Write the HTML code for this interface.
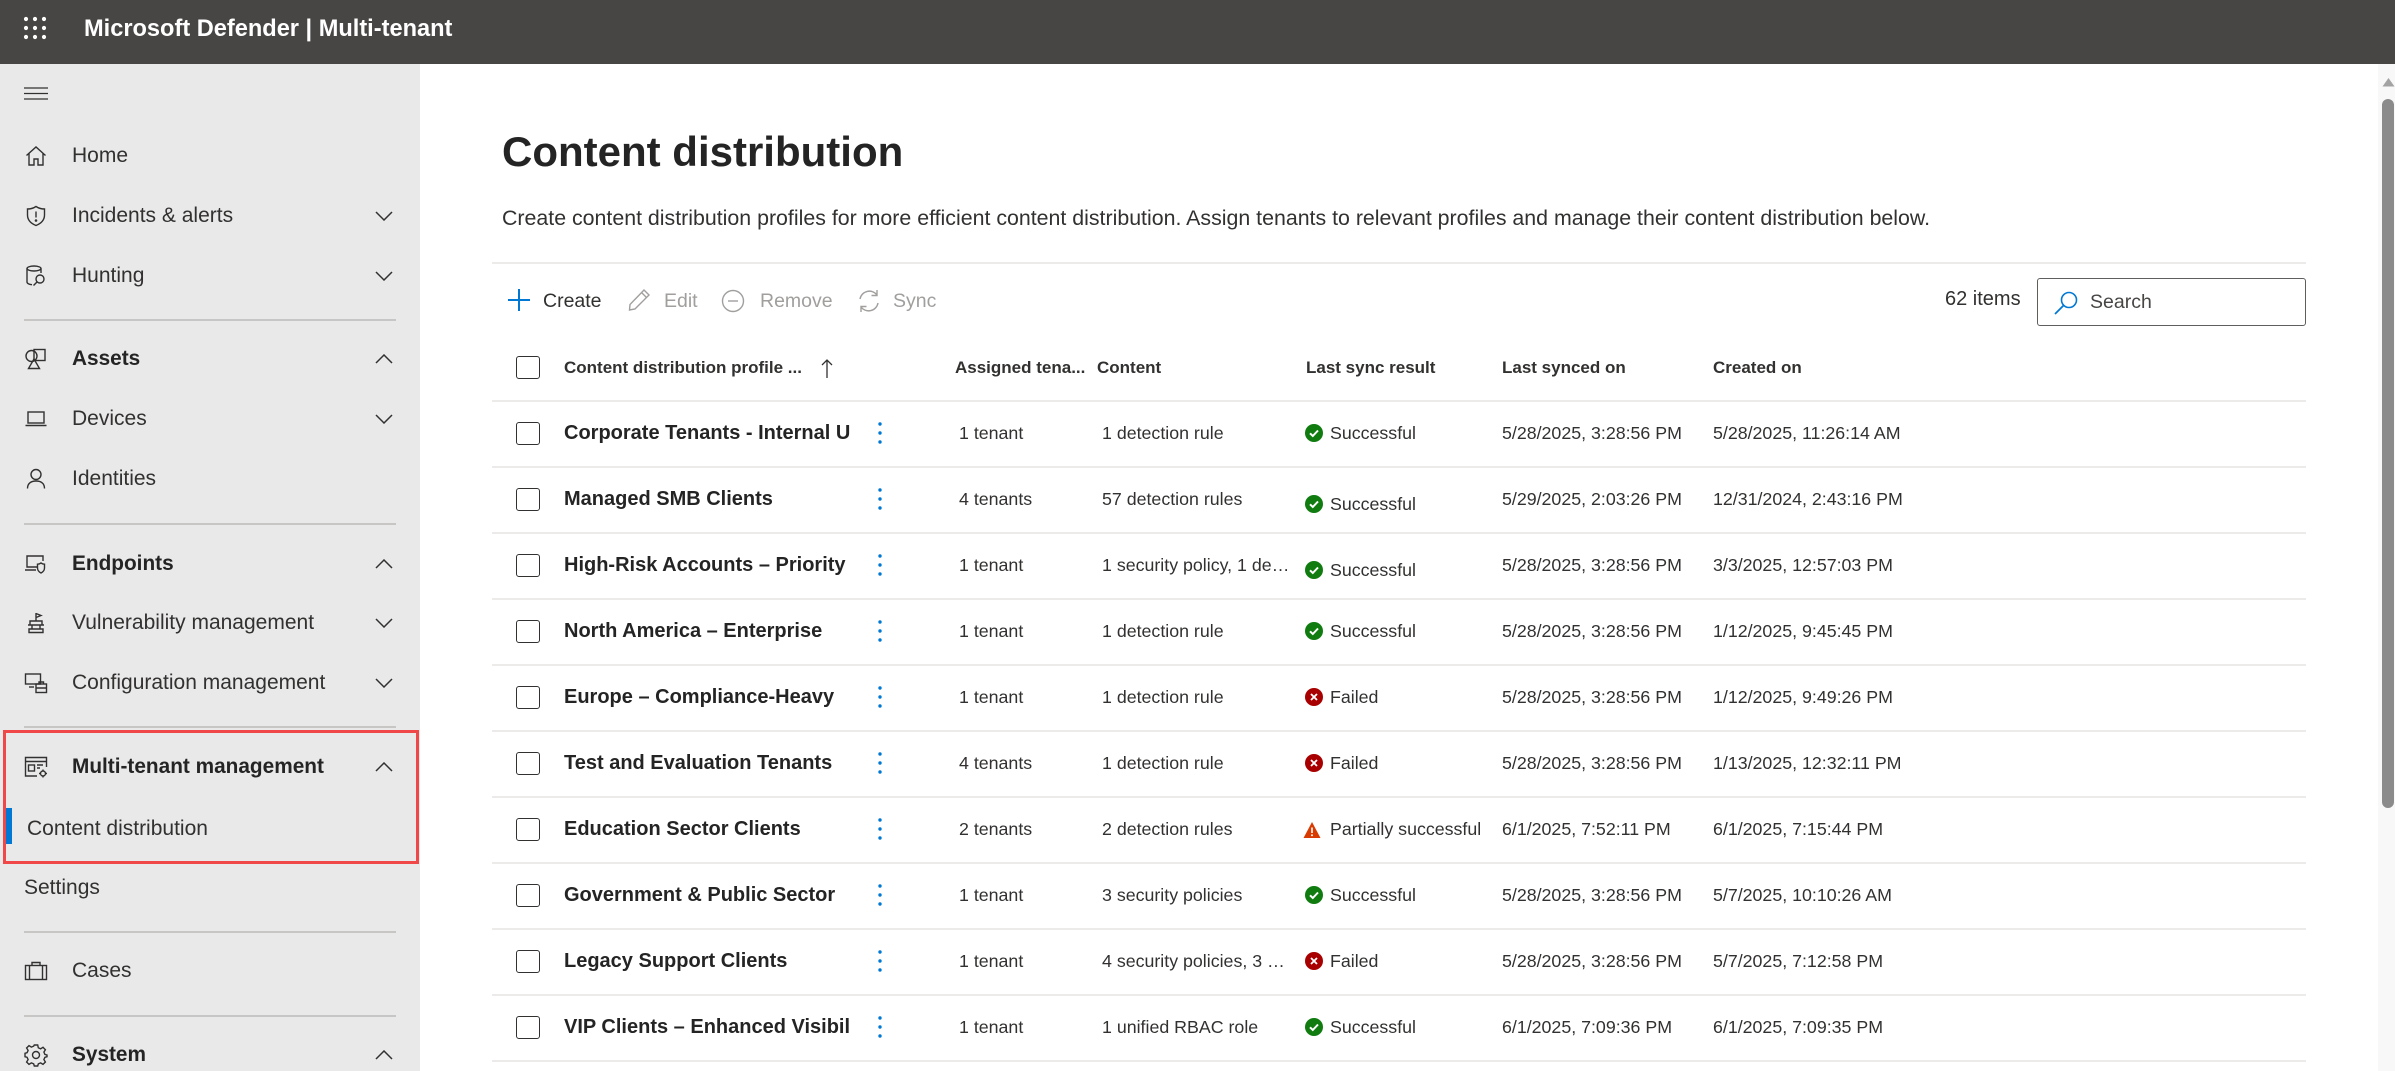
<!DOCTYPE html>
<html><head><meta charset="utf-8">
<style>
*{margin:0;padding:0;box-sizing:border-box}
html,body{width:2395px;height:1071px;overflow:hidden;background:#fff;font-family:"Liberation Sans",Arial,sans-serif;color:#323130}
.a{position:absolute;white-space:nowrap}
.t{height:30px;line-height:30px}
#top{position:absolute;left:0;top:0;width:2395px;height:64px;background:#484644}
#side{position:absolute;left:0;top:64px;width:420px;height:1007px;background:#e9e9e9}
.si{font-size:21px;color:#323130;left:72px}
.sb{font-size:20.8px;font-weight:bold;color:#242424;left:72px}
.dv{position:absolute;left:24px;width:372px;height:2px;background:#c8c6c4}
.ic{position:absolute;left:24px;width:24px;height:24px}
.ic *{stroke:#323130;stroke-width:1.4;fill:none}
.ch{position:absolute;left:375px;width:18px;height:10px}
.ch polyline{stroke:#323130;stroke-width:1.5;fill:none}
.hl{position:absolute;left:492px;width:1814px;height:2px;background:#edebe9}
.cb{position:absolute;left:516px;width:24px;height:23px;border:1.5px solid #323130;border-radius:3px;background:#fff}
.nm{left:564px;width:286px;overflow:hidden;font-size:20px;font-weight:bold;color:#242424}
.dt{position:absolute;left:876px;width:8px;height:22px}
.c{font-size:17.8px;color:#323130}
.as{left:959px}
.co{left:1102px;width:190px;overflow:hidden;text-overflow:ellipsis}
.st{left:1330px}
.ls{left:1502px}
.cr{left:1713px}
.si2{position:absolute;left:1305px;width:18px;height:18px}
.th{font-size:17px;font-weight:bold;color:#323130}
.tb{font-size:19.5px}
.dis{color:#a19f9d}
</style></head>
<body>
<div id="top"></div>
<svg class="a" style="left:23px;top:16px" width="26" height="26" viewBox="0 0 26 26">
<g fill="#fff"><circle cx="3" cy="3" r="2.1"/><circle cx="12" cy="3" r="2.1"/><circle cx="21" cy="3" r="2.1"/><circle cx="3" cy="12" r="2.1"/><circle cx="12" cy="12" r="2.1"/><circle cx="21" cy="12" r="2.1"/><circle cx="3" cy="21" r="2.1"/><circle cx="12" cy="21" r="2.1"/><circle cx="21" cy="21" r="2.1"/></g></svg>
<div class="a t" style="left:84px;top:14px;font-size:23.6px;font-weight:bold;color:#fff">Microsoft Defender | Multi-tenant</div>

<div id="side"></div>
<!-- hamburger -->
<svg class="a" style="left:24px;top:87px" width="24" height="13"><g stroke="#323130" stroke-width="1.3"><line x1="0" y1="1" x2="24" y2="1"/><line x1="0" y1="6.5" x2="24" y2="6.5"/><line x1="0" y1="12" x2="24" y2="12"/></g></svg>

<!-- Home -->
<svg class="ic" style="top:144px" viewBox="0 0 24 24"><path d="M2.5 11.5 L12 3 L21.5 11.5 M5 9.5 V21 H10 V15 H14 V21 H19 V9.5"/></svg>
<div class="a t si" style="top:141px">Home</div>
<!-- Incidents -->
<svg class="ic" style="top:204px" viewBox="0 0 24 24"><path d="M12 2.5 C9 4.5 6.5 5 3.5 5 V11 C3.5 16 7 19.5 12 21.5 C17 19.5 20.5 16 20.5 11 V5 C17.5 5 15 4.5 12 2.5Z M12 7.5 V13.5"/><circle cx="12" cy="16.5" r="0.6"/></svg>
<div class="a t si" style="top:201px">Incidents &amp; alerts</div>
<svg class="ch" style="top:211px"><polyline points="1,1 9,9 17,1"/></svg>
<!-- Hunting -->
<svg class="ic" style="top:264px" viewBox="0 0 24 24"><ellipse cx="10" cy="4.5" rx="7" ry="2.5"/><path d="M3 4.5 V18 C3 19.5 5.5 20.5 8 20.7 M17 4.5 V9"/><circle cx="16" cy="15" r="4"/><path d="M13 18 L9.5 21.5"/></svg>
<div class="a t si" style="top:261px">Hunting</div>
<svg class="ch" style="top:271px"><polyline points="1,1 9,9 17,1"/></svg>
<div class="dv" style="top:319px"></div>
<!-- Assets -->
<svg class="ic" style="top:347px" viewBox="0 0 24 24"><circle cx="7.5" cy="9" r="5.5"/><rect x="10" y="2.5" width="11" height="11"/><path d="M10 12 L4.5 21.5 H15.5 Z"/></svg>
<div class="a t sb" style="top:344px">Assets</div>
<svg class="ch" style="top:354px"><polyline points="1,9 9,1 17,9"/></svg>
<!-- Devices -->
<svg class="ic" style="top:407px" viewBox="0 0 24 24"><rect x="4" y="5" width="16" height="11"/><path d="M1.5 18.5 H22.5"/></svg>
<div class="a t si" style="top:404px">Devices</div>
<svg class="ch" style="top:414px"><polyline points="1,1 9,9 17,1"/></svg>
<!-- Identities -->
<svg class="ic" style="top:467px" viewBox="0 0 24 24"><circle cx="12" cy="7.5" r="5"/><path d="M3.5 21.5 C3.5 16 7.5 14 12 14 C16.5 14 20.5 16 20.5 21.5"/></svg>
<div class="a t si" style="top:464px">Identities</div>
<div class="dv" style="top:523px"></div>
<!-- Endpoints -->
<svg class="ic" style="top:552px" viewBox="0 0 24 24"><path d="M13 15 H3 V4 H19 V9 M1 18 H12"/><path d="M17 11 C15.5 12 14.5 12.2 13.5 12.2 V16 C13.5 18.5 15 20 17 21 C19 20 20.5 18.5 20.5 16 V12.2 C19.5 12.2 18.5 12 17 11Z"/></svg>
<div class="a t sb" style="top:549px">Endpoints</div>
<svg class="ch" style="top:559px"><polyline points="1,9 9,1 17,9"/></svg>
<!-- Vulnerability -->
<svg class="ic" style="top:611px" viewBox="0 0 24 24"><path d="M12 2 V10 M12 2.5 L17 4.5 L12 6.5 M6 10 H18 V14 H6 Z M4 14 H20 M8 14 V18 H16 V14 M5 18 H19 V21.5 H5 Z"/></svg>
<div class="a t si" style="top:608px">Vulnerability management</div>
<svg class="ch" style="top:618px"><polyline points="1,1 9,9 17,1"/></svg>
<!-- Configuration -->
<svg class="ic" style="top:671px" viewBox="0 0 24 24"><rect x="1.5" y="3" width="15" height="10"/><path d="M5 16 H10"/><rect x="12" y="13" width="10.5" height="8.5"/><path d="M12 17 H22.5 M15 13 V11 H19.5 V13"/></svg>
<div class="a t si" style="top:668px">Configuration management</div>
<svg class="ch" style="top:678px"><polyline points="1,1 9,9 17,1"/></svg>
<div class="dv" style="top:726px"></div>

<!-- red box -->
<div class="a" style="left:3px;top:730px;width:416px;height:134px;border:3px solid #f04848"></div>
<!-- Multi-tenant -->
<svg class="ic" style="top:755px" viewBox="0 0 24 24"><path d="M13 21 H1.5 V2.5 H22.5 V12 M1.5 6.5 H22.5"/><rect x="4.5" y="10" width="6" height="6"/><path d="M13 10 H19 M13 13 H16"/><circle cx="19" cy="18.5" r="2.5"/><path d="M19 14.5 V15.5 M19 21.5 V22.5 M15 18.5 H16 M22 18.5 H23"/></svg>
<div class="a t sb" style="top:752px">Multi-tenant management</div>
<svg class="ch" style="top:762px"><polyline points="1,9 9,1 17,9"/></svg>
<div class="a" style="left:6px;top:808px;width:6px;height:36px;background:#0078d4"></div>
<div class="a t" style="left:27px;top:814px;font-size:21px;color:#323130">Content distribution</div>
<div class="a t" style="left:24px;top:873px;font-size:21px;color:#323130">Settings</div>
<div class="dv" style="top:931px"></div>
<!-- Cases -->
<svg class="ic" style="top:959px" viewBox="0 0 24 24"><rect x="1.5" y="6.5" width="21" height="14"/><path d="M8 6.5 V3.5 H16 V6.5 M5.5 6.5 V20.5 M18.5 6.5 V20.5"/></svg>
<div class="a t si" style="top:956px">Cases</div>
<div class="dv" style="top:1015px"></div>
<!-- System -->
<svg class="ic" style="top:1043px" viewBox="0 0 24 24"><circle cx="12" cy="12" r="3.5"/><path d="M10.3 2 H13.7 L14.3 4.8 L16.6 5.8 L19 4.3 L21.4 6.7 L19.9 9.1 L20.9 11.4 L23 12 V13.7 L20.9 14.3 L19.9 16.6 L21.4 19 L19 21.4 L16.6 19.9 L14.3 20.9 L13.7 23 H10.3 L9.7 20.9 L7.4 19.9 L5 21.4 L2.6 19 L4.1 16.6 L3.1 14.3 L1 13.7 V10.3 L3.1 9.7 L4.1 7.4 L2.6 5 L5 2.6 L7.4 4.1 L9.7 3.1 Z"/></svg>
<div class="a t sb" style="top:1040px">System</div>
<svg class="ch" style="top:1050px"><polyline points="1,9 9,1 17,9"/></svg>

<!-- main -->
<div class="a" style="left:502px;top:127px;height:50px;line-height:50px;font-size:42px;font-weight:bold;color:#242424">Content distribution</div>
<div class="a t" style="left:502px;top:203px;font-size:21.35px;color:#323130">Create content distribution profiles for more efficient content distribution. Assign tenants to relevant profiles and manage their content distribution below.</div>
<div class="hl" style="top:262px"></div>

<!-- toolbar -->
<svg class="a" style="left:507px;top:288px" width="24" height="24"><path d="M12 1 V23 M1 12 H23" stroke="#0078d4" stroke-width="2" fill="none"/></svg>
<div class="a t tb" style="left:543px;top:286px;color:#323130">Create</div>
<svg class="a" style="left:627px;top:288px" width="24" height="24" viewBox="0 0 24 24"><path d="M17 2 L22 7 L8 21 L2.5 22 L3 16.5 Z M14.5 4.5 L19.5 9.5" stroke="#a19f9d" stroke-width="1.4" fill="none"/></svg>
<div class="a t tb dis" style="left:664px;top:286px">Edit</div>
<svg class="a" style="left:721px;top:289px" width="24" height="24" viewBox="0 0 24 24"><circle cx="12" cy="12" r="10.5" stroke="#a19f9d" stroke-width="1.4" fill="none"/><path d="M7 12 H17" stroke="#a19f9d" stroke-width="1.4"/></svg>
<div class="a t tb dis" style="left:760px;top:286px">Remove</div>
<svg class="a" style="left:856px;top:288px" width="26" height="26" viewBox="0 0 26 26"><path d="M4 11 A9.5 9.5 0 0 1 21 7 M22 15 A9.5 9.5 0 0 1 5 19 M21 2 V7.5 H15.5 M5 24 V18.5 H10.5" stroke="#a19f9d" stroke-width="1.4" fill="none"/></svg>
<div class="a t tb dis" style="left:893px;top:286px">Sync</div>

<div class="a t" style="left:1945px;top:284px;font-size:20px;color:#323130">62 items</div>
<div class="a" style="left:2037px;top:278px;width:269px;height:48px;border:1.5px solid #605e5c;border-radius:3px"></div>
<svg class="a" style="left:2053px;top:290px" width="26" height="26" viewBox="0 0 26 26"><circle cx="16" cy="10" r="7.5" stroke="#0078d4" stroke-width="1.6" fill="none"/><path d="M10.5 15.5 L2 24" stroke="#0078d4" stroke-width="1.8"/></svg>
<div class="a t" style="left:2090px;top:287px;font-size:19.5px;color:#484644">Search</div>

<!-- header -->
<div class="cb" style="top:356px"></div>
<div class="a t th" style="left:564px;top:353px">Content distribution profile ...</div>
<svg class="a" style="left:820px;top:359px" width="14" height="20"><path d="M7 1 V19 M2 6 L7 1 L12 6" stroke="#323130" stroke-width="1.3" fill="none"/></svg>
<div class="a t th" style="left:955px;top:353px">Assigned tena...</div>
<div class="a t th" style="left:1097px;top:353px">Content</div>
<div class="a t th" style="left:1306px;top:353px">Last sync result</div>
<div class="a t th" style="left:1502px;top:353px">Last synced on</div>
<div class="a t th" style="left:1713px;top:353px">Created on</div>
<div class="hl" style="top:400px"></div>

<!-- row 1 c=433 -->
<div class="cb" style="top:422px"></div>
<div class="a t nm" style="top:418px">Corporate Tenants - Internal Users</div>
<svg class="dt" style="top:422px"><g fill="#0078d4"><circle cx="4" cy="2" r="1.7"/><circle cx="4" cy="11" r="1.7"/><circle cx="4" cy="20" r="1.7"/></g></svg>
<div class="a t c as" style="top:418px">1 tenant</div>
<div class="a t c co" style="top:418px">1 detection rule</div>
<svg class="si2" style="top:424px"><circle cx="9" cy="9" r="9" fill="#107c10"/><path d="M5 9.3 L7.8 12 L13 6.5" stroke="#fff" stroke-width="2" fill="none"/></svg>
<div class="a t c st" style="top:418px">Successful</div>
<div class="a t c ls" style="top:418px">5/28/2025, 3:28:56 PM</div>
<div class="a t c cr" style="top:418px">5/28/2025, 11:26:14 AM</div>
<div class="hl" style="top:466px"></div>

<!-- row 2 c=499 -->
<div class="cb" style="top:488px"></div>
<div class="a t nm" style="top:484px">Managed SMB Clients</div>
<svg class="dt" style="top:488px"><g fill="#0078d4"><circle cx="4" cy="2" r="1.7"/><circle cx="4" cy="11" r="1.7"/><circle cx="4" cy="20" r="1.7"/></g></svg>
<div class="a t c as" style="top:484px">4 tenants</div>
<div class="a t c co" style="top:484px">57 detection rules</div>
<svg class="si2" style="top:495px"><circle cx="9" cy="9" r="9" fill="#107c10"/><path d="M5 9.3 L7.8 12 L13 6.5" stroke="#fff" stroke-width="2" fill="none"/></svg>
<div class="a t c st" style="top:489px">Successful</div>
<div class="a t c ls" style="top:484px">5/29/2025, 2:03:26 PM</div>
<div class="a t c cr" style="top:484px">12/31/2024, 2:43:16 PM</div>
<div class="hl" style="top:532px"></div>

<!-- row 3 c=565 -->
<div class="cb" style="top:554px"></div>
<div class="a t nm" style="top:550px">High-Risk Accounts – Priority</div>
<svg class="dt" style="top:554px"><g fill="#0078d4"><circle cx="4" cy="2" r="1.7"/><circle cx="4" cy="11" r="1.7"/><circle cx="4" cy="20" r="1.7"/></g></svg>
<div class="a t c as" style="top:550px">1 tenant</div>
<div class="a t c co" style="top:550px">1 security policy, 1 detection rule</div>
<svg class="si2" style="top:561px"><circle cx="9" cy="9" r="9" fill="#107c10"/><path d="M5 9.3 L7.8 12 L13 6.5" stroke="#fff" stroke-width="2" fill="none"/></svg>
<div class="a t c st" style="top:555px">Successful</div>
<div class="a t c ls" style="top:550px">5/28/2025, 3:28:56 PM</div>
<div class="a t c cr" style="top:550px">3/3/2025, 12:57:03 PM</div>
<div class="hl" style="top:598px"></div>

<!-- row 4 c=631 -->
<div class="cb" style="top:620px"></div>
<div class="a t nm" style="top:616px">North America – Enterprise</div>
<svg class="dt" style="top:620px"><g fill="#0078d4"><circle cx="4" cy="2" r="1.7"/><circle cx="4" cy="11" r="1.7"/><circle cx="4" cy="20" r="1.7"/></g></svg>
<div class="a t c as" style="top:616px">1 tenant</div>
<div class="a t c co" style="top:616px">1 detection rule</div>
<svg class="si2" style="top:622px"><circle cx="9" cy="9" r="9" fill="#107c10"/><path d="M5 9.3 L7.8 12 L13 6.5" stroke="#fff" stroke-width="2" fill="none"/></svg>
<div class="a t c st" style="top:616px">Successful</div>
<div class="a t c ls" style="top:616px">5/28/2025, 3:28:56 PM</div>
<div class="a t c cr" style="top:616px">1/12/2025, 9:45:45 PM</div>
<div class="hl" style="top:664px"></div>

<!-- row 5 c=697 -->
<div class="cb" style="top:686px"></div>
<div class="a t nm" style="top:682px">Europe – Compliance-Heavy</div>
<svg class="dt" style="top:686px"><g fill="#0078d4"><circle cx="4" cy="2" r="1.7"/><circle cx="4" cy="11" r="1.7"/><circle cx="4" cy="20" r="1.7"/></g></svg>
<div class="a t c as" style="top:682px">1 tenant</div>
<div class="a t c co" style="top:682px">1 detection rule</div>
<svg class="si2" style="top:688px"><circle cx="9" cy="9" r="9" fill="#a80000"/><path d="M6 6 L12 12 M12 6 L6 12" stroke="#fff" stroke-width="1.8"/></svg>
<div class="a t c st" style="top:682px">Failed</div>
<div class="a t c ls" style="top:682px">5/28/2025, 3:28:56 PM</div>
<div class="a t c cr" style="top:682px">1/12/2025, 9:49:26 PM</div>
<div class="hl" style="top:730px"></div>

<!-- row 6 c=763 -->
<div class="cb" style="top:752px"></div>
<div class="a t nm" style="top:748px">Test and Evaluation Tenants</div>
<svg class="dt" style="top:752px"><g fill="#0078d4"><circle cx="4" cy="2" r="1.7"/><circle cx="4" cy="11" r="1.7"/><circle cx="4" cy="20" r="1.7"/></g></svg>
<div class="a t c as" style="top:748px">4 tenants</div>
<div class="a t c co" style="top:748px">1 detection rule</div>
<svg class="si2" style="top:754px"><circle cx="9" cy="9" r="9" fill="#a80000"/><path d="M6 6 L12 12 M12 6 L6 12" stroke="#fff" stroke-width="1.8"/></svg>
<div class="a t c st" style="top:748px">Failed</div>
<div class="a t c ls" style="top:748px">5/28/2025, 3:28:56 PM</div>
<div class="a t c cr" style="top:748px">1/13/2025, 12:32:11 PM</div>
<div class="hl" style="top:796px"></div>

<!-- row 7 c=829 -->
<div class="cb" style="top:818px"></div>
<div class="a t nm" style="top:814px">Education Sector Clients</div>
<svg class="dt" style="top:818px"><g fill="#0078d4"><circle cx="4" cy="2" r="1.7"/><circle cx="4" cy="11" r="1.7"/><circle cx="4" cy="20" r="1.7"/></g></svg>
<div class="a t c as" style="top:814px">2 tenants</div>
<div class="a t c co" style="top:814px">2 detection rules</div>
<svg class="si2" style="top:821px;left:1303px"><path d="M9 1 L17.5 17 H0.5 Z" fill="#d83b01"/><path d="M9 6.5 V12" stroke="#fff" stroke-width="1.6"/><circle cx="9" cy="14.3" r="1" fill="#fff"/></svg>
<div class="a t c st" style="top:814px">Partially successful</div>
<div class="a t c ls" style="top:814px">6/1/2025, 7:52:11 PM</div>
<div class="a t c cr" style="top:814px">6/1/2025, 7:15:44 PM</div>
<div class="hl" style="top:862px"></div>

<!-- row 8 c=895 -->
<div class="cb" style="top:884px"></div>
<div class="a t nm" style="top:880px">Government &amp; Public Sector</div>
<svg class="dt" style="top:884px"><g fill="#0078d4"><circle cx="4" cy="2" r="1.7"/><circle cx="4" cy="11" r="1.7"/><circle cx="4" cy="20" r="1.7"/></g></svg>
<div class="a t c as" style="top:880px">1 tenant</div>
<div class="a t c co" style="top:880px">3 security policies</div>
<svg class="si2" style="top:886px"><circle cx="9" cy="9" r="9" fill="#107c10"/><path d="M5 9.3 L7.8 12 L13 6.5" stroke="#fff" stroke-width="2" fill="none"/></svg>
<div class="a t c st" style="top:880px">Successful</div>
<div class="a t c ls" style="top:880px">5/28/2025, 3:28:56 PM</div>
<div class="a t c cr" style="top:880px">5/7/2025, 10:10:26 AM</div>
<div class="hl" style="top:928px"></div>

<!-- row 9 c=961 -->
<div class="cb" style="top:950px"></div>
<div class="a t nm" style="top:946px">Legacy Support Clients</div>
<svg class="dt" style="top:950px"><g fill="#0078d4"><circle cx="4" cy="2" r="1.7"/><circle cx="4" cy="11" r="1.7"/><circle cx="4" cy="20" r="1.7"/></g></svg>
<div class="a t c as" style="top:946px">1 tenant</div>
<div class="a t c co" style="top:946px">4 security policies, 3 detection rules</div>
<svg class="si2" style="top:952px"><circle cx="9" cy="9" r="9" fill="#a80000"/><path d="M6 6 L12 12 M12 6 L6 12" stroke="#fff" stroke-width="1.8"/></svg>
<div class="a t c st" style="top:946px">Failed</div>
<div class="a t c ls" style="top:946px">5/28/2025, 3:28:56 PM</div>
<div class="a t c cr" style="top:946px">5/7/2025, 7:12:58 PM</div>
<div class="hl" style="top:994px"></div>

<!-- row 10 c=1027 -->
<div class="cb" style="top:1016px"></div>
<div class="a t nm" style="top:1012px">VIP Clients – Enhanced Visibility</div>
<svg class="dt" style="top:1016px"><g fill="#0078d4"><circle cx="4" cy="2" r="1.7"/><circle cx="4" cy="11" r="1.7"/><circle cx="4" cy="20" r="1.7"/></g></svg>
<div class="a t c as" style="top:1012px">1 tenant</div>
<div class="a t c co" style="top:1012px">1 unified RBAC role</div>
<svg class="si2" style="top:1018px"><circle cx="9" cy="9" r="9" fill="#107c10"/><path d="M5 9.3 L7.8 12 L13 6.5" stroke="#fff" stroke-width="2" fill="none"/></svg>
<div class="a t c st" style="top:1012px">Successful</div>
<div class="a t c ls" style="top:1012px">6/1/2025, 7:09:36 PM</div>
<div class="a t c cr" style="top:1012px">6/1/2025, 7:09:35 PM</div>
<div class="hl" style="top:1060px"></div>

<!-- scrollbar -->
<div class="a" style="left:2378px;top:64px;width:17px;height:1007px;background:#f8f8f8"></div>
<svg class="a" style="left:2382px;top:77px" width="13" height="10"><path d="M0.5 9.5 L6.5 1 L12.5 9.5 Z" fill="#a3a3a3"/></svg>
<div class="a" style="left:2382px;top:99px;width:12px;height:709px;border-radius:6px;background:#8b8b8b"></div>
</body></html>
